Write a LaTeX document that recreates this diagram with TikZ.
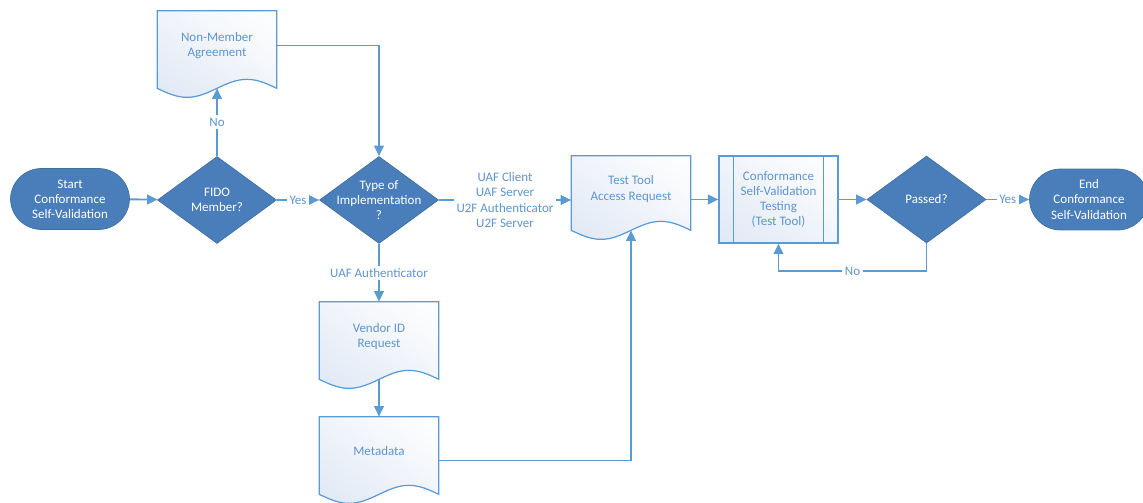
\documentclass[tikz,border=0pt]{standalone}
\usepackage{fontspec}
\setmainfont{Carlito}
\usepackage{xcolor}
\usetikzlibrary{shapes.geometric,arrows.meta,positioning,calc,backgrounds,shadings}
\definecolor{flowdark}{HTML}{4A7EBB}
\definecolor{flowedge}{HTML}{41719C}
\definecolor{flowline}{HTML}{5B9BD5}
\definecolor{flowtext}{HTML}{5E95CF}
\definecolor{docfill}{HTML}{DFE8F5}
\definecolor{docmid}{HTML}{F0F4FA}
\newcommand{\flowfont}{\fontsize{7.4}{8.6}\selectfont}

\begin{document}
\begin{tikzpicture}[
    x=0.02cm, y=-0.02cm,
    termbox/.style={rectangle, rounded corners=0.62cm, draw=flowedge, fill=flowdark, text=white, minimum width=2.38cm, minimum height=1.22cm, align=center, font=\flowfont},
    decision/.style={diamond, draw=flowedge, fill=flowdark, minimum width=2.38cm, minimum height=1.74cm, inner sep=0pt},
    dectext/.style={text=white, align=center, font=\flowfont},
    docbox/.style={rectangle, minimum width=2.38cm, align=center, text=flowtext, font=\flowfont},
    % y axis runs downwards, so the shading is flipped: lower here shows on top
    softshade/.style={lower left=docfill, lower right=docmid, upper left=docmid, upper right=white},
    docline/.style={draw=flowline, line width=0.7pt, softshade},
    procbox/.style={rectangle, draw=flowline, line width=0.7pt, softshade, minimum width=2.38cm, minimum height=1.74cm, align=center, text=flowtext, font=\flowfont},
    procline/.style={draw=flowline, line width=0.7pt},
    flow/.style={-{Triangle[length=6pt,width=5.5pt]}, draw=flowline, line width=1.1pt},
    edgetext/.style={fill=white, text=flowtext, font=\flowfont, align=center, inner sep=1.5pt}
]
    \useasboundingbox (0,0) rectangle (1143,503);

    % Nodes
    \node[termbox] (start) at (70,199) {Start\\Conformance\\Self-Validation};
    \node[decision, label={[dectext]center:FIDO\\Member?}] (fido) at (217,200) {};
    \node[docbox, minimum height=1.38cm] (nonmember) at (217,45.5) {Non-Member\\Agreement};
    \node[decision, label={[dectext]center:Type of\\Implementation\\?}] (impl) at (379,200) {};
    \node[docbox, minimum height=1.38cm] (vendor) at (379,336.5) {Vendor ID\\Request};
    \node[docbox, minimum height=1.38cm] (meta) at (379,451.5) {Metadata};
    \node[docbox, minimum height=1.32cm] (access) at (631,189) {Test Tool\\Access Request};
    \node[procbox] (testing) at (778.5,199.5) {Conformance\\Self-Validation\\Testing\\(Test Tool)};
    \node[decision, label={[dectext]center:Passed?}] (passed) at (926.5,199.5) {};
    \node[termbox] (finish) at (1089,199.5) {End\\Conformance\\Self-Validation};

    % Document outlines (wavy bottom, 8 below the text box)
    \begin{scope}[on background layer]
        \foreach \d in {nonmember, vendor, meta, access}{
            \path[docline] (\d.north west) -- (\d.north east) -- ($(\d.south east)+(0,8)$)
                sin ($(\d.south west)!0.75!(\d.south east)+(0,-1)$)
                cos ($(\d.south west)!0.5!(\d.south east)+(0,8)$)
                sin ($(\d.south west)!0.25!(\d.south east)+(0,17)$)
                cos ($(\d.south west)+(0,8)$) -- cycle;
        }
    \end{scope}

    % Predefined process side bars
    \draw[procline] ($(testing.north west)+(15,0)$) -- ($(testing.south west)+(15,0)$);
    \draw[procline] ($(testing.north east)+(-15,0)$) -- ($(testing.south east)+(-15,0)$);

    % Main flow
    \draw[flow] (start) -- (fido);
    \draw[flow] (fido) -- node[edgetext] {Yes} (impl);
    \draw[flow] (fido.north) -- node[edgetext] {No} ($(nonmember.south)+(0,8)$);
    \draw[flow] (nonmember.east) -| (impl.north);
    \draw[flow] (impl.east) -- node[edgetext] {UAF Client\\UAF Server\\U2F Authenticator\\U2F Server} (impl.east -| access.west);
    \draw[flow] (impl) -- node[edgetext] {UAF Authenticator} (vendor);
    \draw[flow] ($(vendor.south)+(0,8)$) -- (meta.north);
    \draw[flow] ($(meta.east)+(0,9)$) -| ($(access.south)+(0,8)$);
    \draw[flow] (access.east |- testing.west) -- (testing.west);
    \draw[flow] (testing) -- (passed);
    \draw[flow] (passed) -- node[edgetext] {Yes} (finish);

    % Retry loop
    \draw[flow] (passed.south) -- ++(0,28) -| node[edgetext, pos=0.25] {No} (testing.south);
\end{tikzpicture}
\end{document}
